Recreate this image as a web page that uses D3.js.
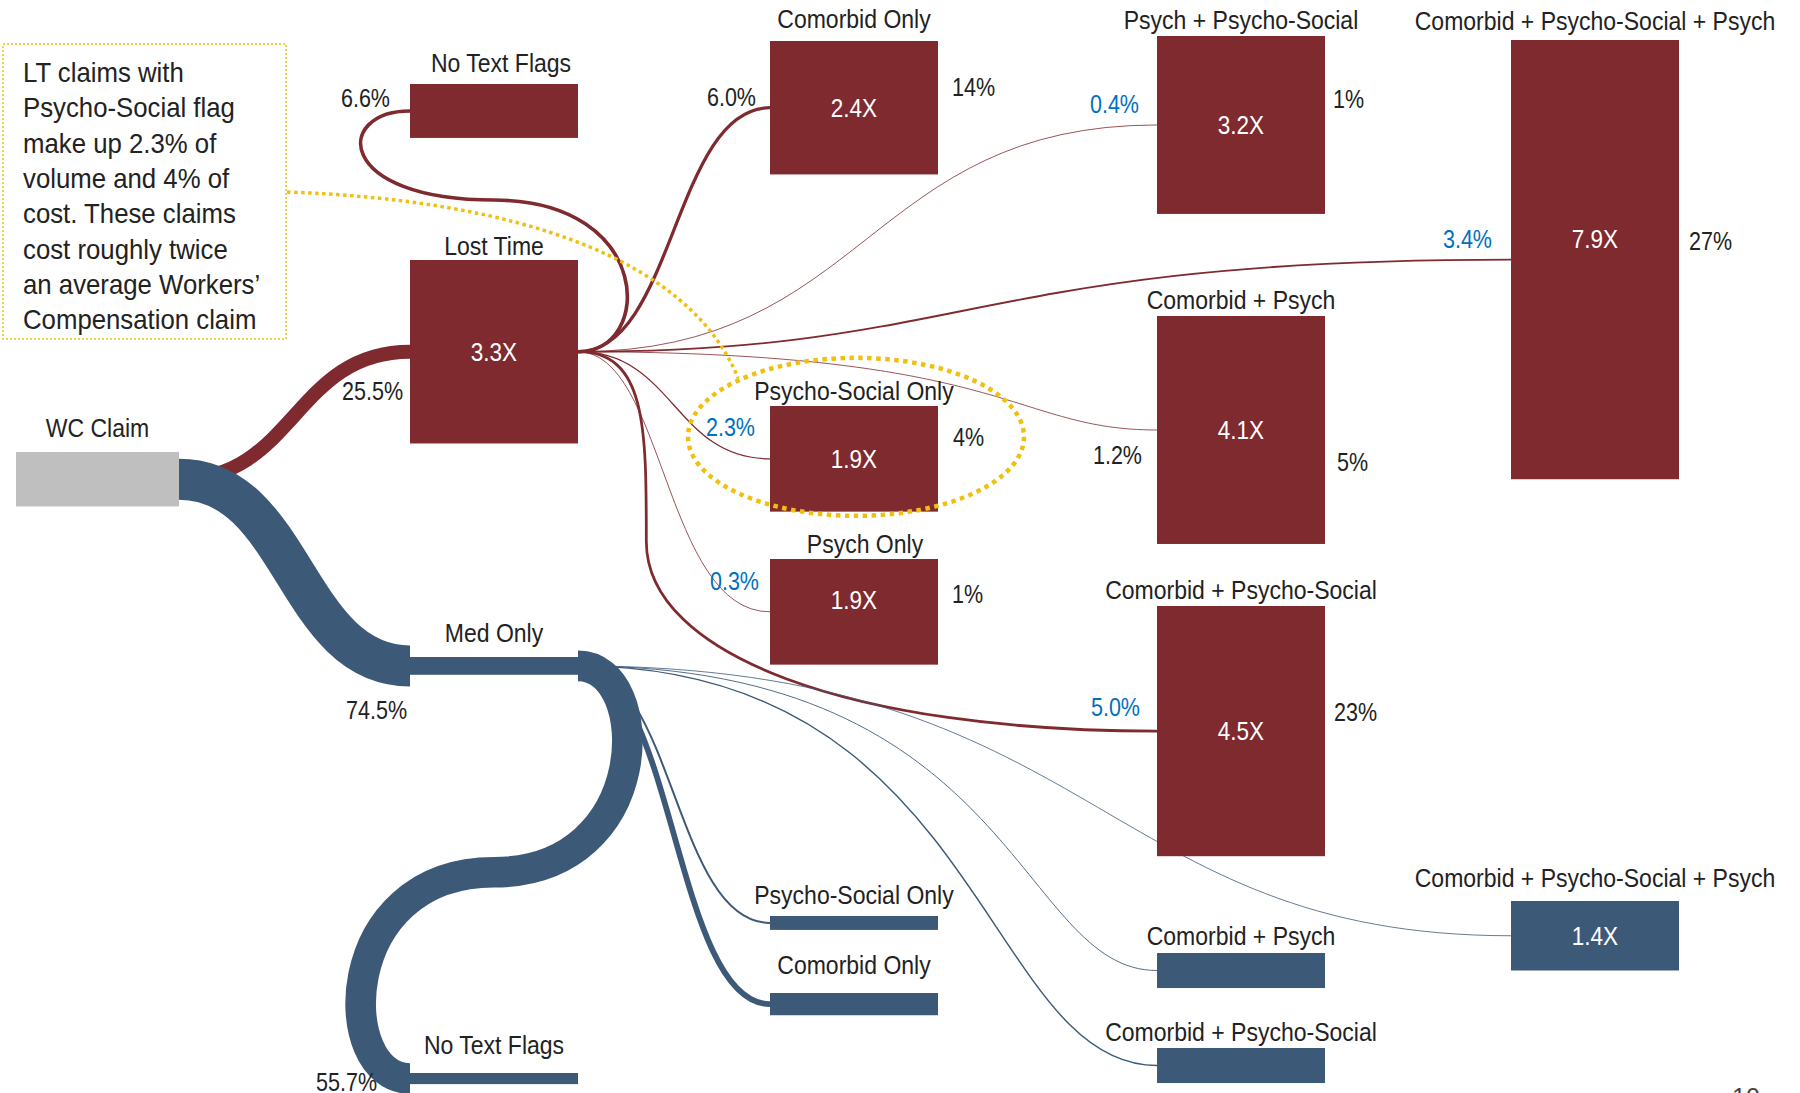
<!DOCTYPE html>
<html>
<head>
<meta charset="utf-8">
<script src="https://cdn.jsdelivr.net/npm/d3@7"></script>
<style>
  body { margin: 0; background: #fff; }
  svg text { font-family: "Liberation Sans", Arial, sans-serif; fill: #222; }
</style>
</head>
<body>
<div id="chart"></div>
<script>
// ---- data ----
const nodeIds = ["wc", "ltNtf", "lt", "med", "medNtf", "ltCo", "ltPs", "ltPy", "medPs", "medCo",
                 "ltPyPs", "ltCoPy", "ltCoPs", "medCoPy", "medCoPs", "ltAll", "medAll"];
const nodeTitles = ["WC Claim", "No Text Flags", "Lost Time", "Med Only", "No Text Flags",
                    "Comorbid Only", "Psycho-Social Only", "Psych Only", "Psycho-Social Only", "Comorbid Only",
                    "Psych + Psycho-Social", "Comorbid + Psych", "Comorbid + Psycho-Social",
                    "Comorbid + Psych", "Comorbid + Psycho-Social",
                    "Comorbid + Psycho-Social + Psych", "Comorbid + Psycho-Social + Psych"];
const nodeGroups = ["all", "lt", "lt", "med", "med", "lt", "lt", "lt", "med", "med",
                    "lt", "lt", "lt", "med", "med", "lt", "med"];
// relative cost (1 = average WC claim), drives box height
const costIndex = [0.98, 0.97, 3.3, 0.32, 0.2, 2.4, 1.9, 1.9, 0.25, 0.4, 3.2, 4.1, 4.5, 0.63, 0.63, 7.9, 1.25];
const costLabels = ["", "", "3.3X", "", "", "2.4X", "1.9X", "1.9X", "", "", "3.2X", "4.1X", "4.5X", "", "", "7.9X", "1.4X"];
const volumeLabels = ["", "6.6%", "25.5%", "74.5%", "55.7%", "6.0%", "2.3%", "0.3%", "", "",
                      "0.4%", "1.2%", "5.0%", "", "", "3.4%", ""];
const volumeHighlighted = [false, false, false, false, false, false, true, true, false, false,
                           true, false, true, false, false, true, false];
const costShareLabels = ["", "", "", "", "", "14%", "4%", "1%", "", "", "1%", "5%", "23%", "", "", "27%", ""];

const linkSources = ["wc", "wc", "lt", "lt", "lt", "lt", "lt", "lt", "lt", "lt",
                     "med", "med", "med", "med", "med", "med"];
const linkTargets = ["lt", "med", "ltNtf", "ltCo", "ltPyPs", "ltAll", "ltCoPy", "ltPs", "ltPy", "ltCoPs",
                     "medNtf", "medPs", "medCo", "medCoPy", "medCoPs", "medAll"];
const linkVolumes = [25.5, 74.5, 6.6, 6.0, 0.4, 3.4, 1.2, 2.3, 0.3, 5.0,
                     55.7, 3.6, 10.5, 1.6, 2.6, 0.5];

const annotationLines = ["LT claims with", "Psycho-Social flag", "make up 2.3% of", "volume and 4% of",
                         "cost. These claims", "cost roughly twice", "an average Workers\u2019", "Compensation claim"];

// ---- layout (positions / label placement) ----
const layout = {
  wc:      { col: 0, top: 452, gap: 15 },
  ltNtf:   { col: 1, top: 84,  gap: 12, tdx: 7, vol: [-20, -13] },
  lt:      { col: 1, top: 260, gap: 5,  vol: [-7, 39] },
  med:     { col: 1, top: 657, gap: 15, vol: [-3, 44] },
  medNtf:  { col: 1, top: 1073, gap: 19, vol: [-33, 3] },
  ltCo:    { col: 2, top: 41,  gap: 13, vol: [-14, -11], share: [14, -21] },
  ltPs:    { col: 2, top: 406, gap: 6,  vol: [-15, -32], share: [15, -22] },
  ltPy:    { col: 2, top: 559, gap: 6,  tdx: 11, vol: [-11, -31], share: [14, -18], mdy: -12 },
  medPs:   { col: 2, top: 916, gap: 12 },
  medCo:   { col: 2, top: 993, gap: 19 },
  ltPyPs:  { col: 3, top: 36,  gap: 7,  vol: [-18, -21], share: [8, -26] },
  ltCoPy:  { col: 3, top: 316, gap: 7,  vol: [-15, 25], share: [12, 32] },
  ltCoPs:  { col: 3, top: 606, gap: 7,  vol: [-17, -24], share: [9, -19] },
  medCoPy: { col: 3, top: 953, gap: 8 },
  medCoPs: { col: 3, top: 1048, gap: 7 },
  ltAll:   { col: 4, top: 40,  gap: 10, vol: [-19, -21], share: [10, -19], mdy: -21 },
  medAll:  { col: 4, top: 901, gap: 14 }
};
// link shape: fraction of the run where the curve turns (loops: fraction of the rise)
const linkShape = {
  "lt-ltNtf": { bend: 0.63 }, "lt-ltAll": { bend: 0.42 }, "lt-ltCoPy": { bend: 0.75 },
  "lt-ltPy": { bend: 0.45 }, "lt-ltCoPs": { via: [0.118, 0.5] },
  "med-medCoPy": { bend: 0.76 }, "med-medCoPs": { bend: 0.7 }, "med-medAll": { bend: 0.56 }
};

const colors = { all: "#bfbfbf", lt: "#7f2a2f", med: "#3c5a78" };
const yellow = "#f0c010";
const W = 1800, H = 1093;

const svg = d3.select("#chart").append("svg")
    .attr("width", W)
    .attr("height", H);

const colX = d3.scaleOrdinal().domain([0, 1, 2, 3, 4]).range([16, 410, 770, 1157, 1511]);
const heightScale = d3.scaleLinear().domain([0, 1]).range([0, 55.6]);
const widthScale = d3.scaleLinear().domain([0, 100]).range([0, 55]);

const nodes = nodeIds.map((id, i) => {
    const l = layout[id];
    const w = l.col === 0 ? 163 : 168;
    const h = heightScale(costIndex[i]);
    return { id, i, x: colX(l.col), y: l.top, w, h, group: nodeGroups[i], l };
});
const nodeById = {};
nodes.forEach(n => nodeById[n.id] = n);

const links = linkSources.map((s, i) => ({
    source: nodeById[s], target: nodeById[linkTargets[i]], value: linkVolumes[i],
    shape: linkShape[s + "-" + linkTargets[i]] || { bend: 0.5 }
}));

function linkPath(d) {
    const s = d.source, t = d.target;
    const sx = s.x + s.w, sy = s.y + s.h / 2, tx = t.x, ty = t.y + t.h / 2;
    const p = d3.path();
    p.moveTo(sx, sy);
    if (tx < sx) {
        // loop back to a box that sits further left
        const b = 76, mx = (sx + tx) / 2, my = sy + d.shape.bend * (ty - sy);
        p.bezierCurveTo(sx + b, sy, sx + b, my, mx, my);
        p.bezierCurveTo(tx - b, my, tx - b, ty, tx, ty);
    } else if (d.shape.via) {
        const vx = sx + d.shape.via[0] * (tx - sx), vy = sy + d.shape.via[1] * (ty - sy);
        p.bezierCurveTo(vx, sy, vx, sy + (vy - sy) * 0.4, vx, vy);
        p.bezierCurveTo(vx, vy + (ty - vy) * 0.6, vx + (tx - vx) * 0.4, ty, tx, ty);
    } else {
        const cx = sx + d.shape.bend * (tx - sx);
        p.bezierCurveTo(cx, sy, cx, ty, tx, ty);
    }
    return p.toString();
}

// narrow the type a little, the original uses a condensed face
function squeeze(sel, k) {
    sel.each(function() {
        const len = this.getComputedTextLength();
        d3.select(this).attr("textLength", len * k).attr("lengthAdjust", "spacingAndGlyphs");
    });
}

// links (under the boxes)
svg.append("g").selectAll("path").data(links).enter().append("path")
    .attr("d", linkPath)
    .attr("fill", "none")
    .attr("stroke", d => colors[d.target.group])
    .attr("stroke-width", d => Math.max(0.8, widthScale(d.value)));

// boxes
const ng = svg.append("g").selectAll("g").data(nodes).enter().append("g");
ng.append("rect")
    .attr("x", d => d.x).attr("y", d => d.y)
    .attr("width", d => d.w).attr("height", d => d.h)
    .attr("fill", d => colors[d.group]);

const titles = ng.append("text")
    .attr("x", d => d.x + d.w / 2 + (d.l.tdx || 0))
    .attr("y", d => d.y - d.l.gap)
    .attr("text-anchor", "middle")
    .style("font-size", "25px")
    .text(d => nodeTitles[d.i]);
squeeze(titles, 0.92);

const mults = ng.filter(d => costLabels[d.i]).append("text")
    .attr("x", d => d.x + d.w / 2)
    .attr("y", d => d.y + d.h / 2 + (d.l.mdy || 0))
    .attr("dy", "0.36em")
    .attr("text-anchor", "middle")
    .style("font-size", "25px")
    .style("fill", "#fff")
    .text(d => costLabels[d.i]);
squeeze(mults, 0.9);

const vols = ng.filter(d => volumeLabels[d.i]).append("text")
    .attr("x", d => d.x + d.l.vol[0])
    .attr("y", d => d.y + d.h / 2 + d.l.vol[1])
    .attr("dy", "0.36em")
    .attr("text-anchor", "end")
    .style("font-size", "25px")
    .style("fill", d => volumeHighlighted[d.i] ? "#0070c0" : "#222")
    .text(d => volumeLabels[d.i]);
squeeze(vols, 0.86);

const shares = ng.filter(d => costShareLabels[d.i]).append("text")
    .attr("x", d => d.x + d.w + d.l.share[0])
    .attr("y", d => d.y + d.h / 2 + d.l.share[1])
    .attr("dy", "0.36em")
    .style("font-size", "25px")
    .text(d => costShareLabels[d.i]);
squeeze(shares, 0.86);

// annotation box + callout
const ann = svg.append("g");
ann.append("rect")
    .attr("x", 3).attr("y", 44).attr("width", 283).attr("height", 295)
    .attr("fill", "none").attr("stroke", yellow)
    .attr("stroke-width", 1.5).attr("stroke-dasharray", "2 2");
const notes = ann.selectAll("text.note").data(annotationLines).enter().append("text")
    .attr("class", "note")
    .attr("x", 23)
    .attr("y", (d, i) => 82 + i * 35.3)
    .style("font-size", "28px")
    .text(d => d);
squeeze(notes, 0.92);

const focus = nodeById.ltPs;
const ex = focus.x + focus.w / 2 + 2, ey = focus.y + focus.h / 2 - 22;
ann.append("ellipse")
    .attr("cx", ex).attr("cy", ey).attr("rx", 168).attr("ry", 79)
    .attr("fill", "none").attr("stroke", yellow)
    .attr("stroke-width", 4.5).attr("stroke-dasharray", "4.5 4.5");
const cp = d3.path();
cp.moveTo(287, 192);
cp.bezierCurveTo(520, 200, 690, 260, ex - 118, ey - 59);
ann.append("path")
    .attr("d", cp.toString())
    .attr("fill", "none").attr("stroke", yellow)
    .attr("stroke-width", 3.5).attr("stroke-dasharray", "3.5 3.5");

// page number, cut at the bottom edge
svg.append("text")
    .attr("x", 1746).attr("y", 1106)
    .attr("text-anchor", "middle")
    .style("font-size", "25px")
    .style("fill", "#444")
    .text("10");
</script>
</body>
</html>
